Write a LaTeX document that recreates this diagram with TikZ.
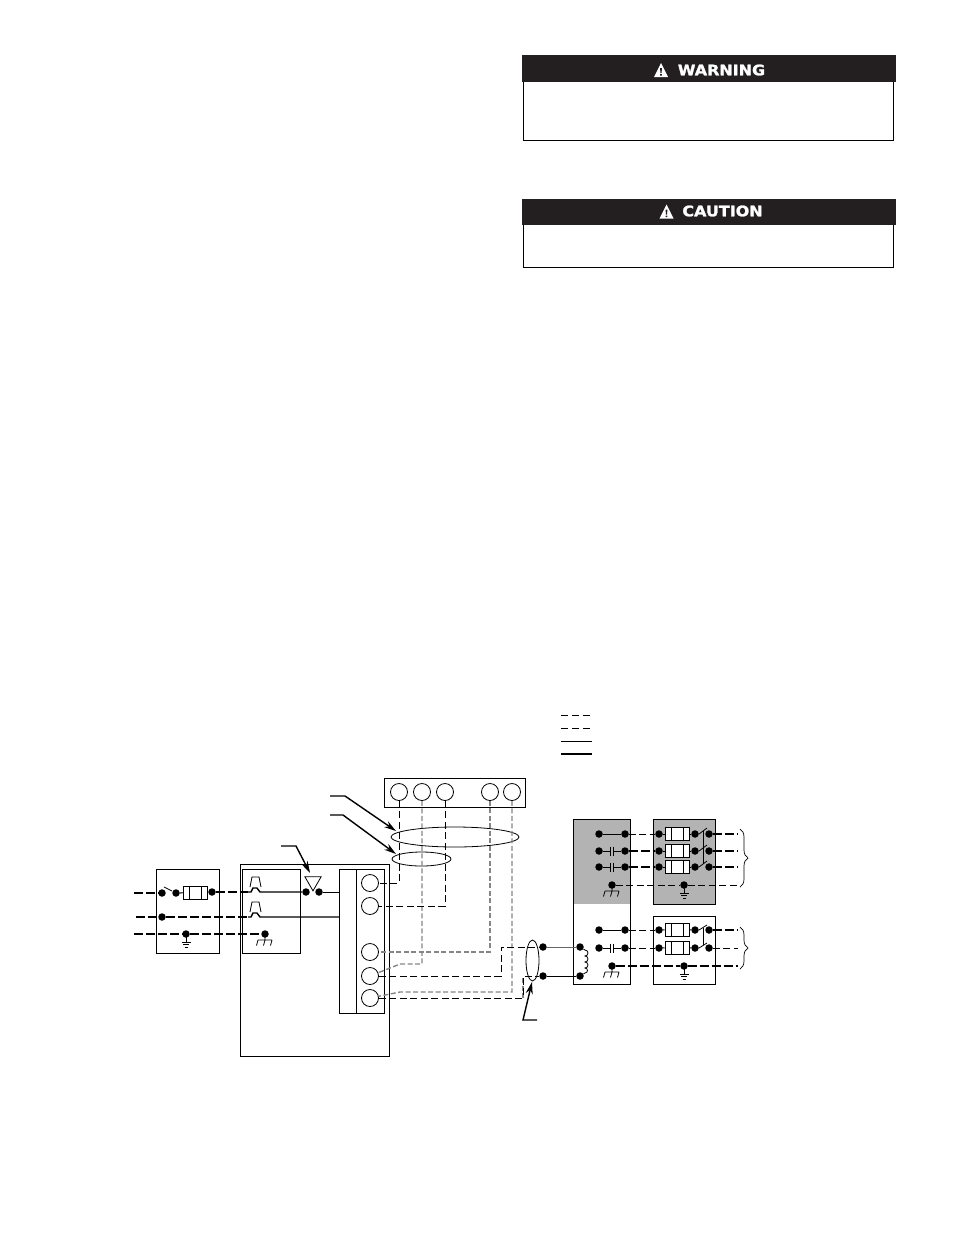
\documentclass[tikz,border=0pt]{standalone}
\usepackage{fontspec}
\usetikzlibrary{arrows.meta,positioning,calc,shapes.geometric,decorations.pathreplacing}
\newfontfamily\bannerfont[BoldFeatures={FakeBold=1.6}]{DejaVu Sans}
\definecolor{bannerblack}{HTML}{231F20}
\definecolor{panelgray}{HTML}{B3B3B3}
\tikzset{
  box/.style={draw,line width=1pt,inner sep=0pt},
  banner/.style={fill=bannerblack,inner sep=0pt,minimum width=374pt},
  bannertext/.style={text=white,inner sep=0pt,font=\bannerfont\bfseries\fontsize{14.5}{14.5}\selectfont,xscale=1.1},
  term/.style={circle,draw,line width=.8pt,fill=white,inner sep=0pt,minimum size=17pt},
  dot/.style={circle,fill=black,inner sep=0pt,minimum size=7.5pt},
  fuse/.style={draw,line width=.9pt,fill=white,inner sep=0pt,minimum width=24pt,minimum height=13pt,
    path picture={\draw ([xshift=6pt]path picture bounding box.south west) -- ([xshift=6pt]path picture bounding box.north west);
      \draw ([xshift=-6pt]path picture bounding box.south east) -- ([xshift=-6pt]path picture bounding box.north east);}},
  bundle/.style={ellipse,draw,line width=.8pt,inner sep=0pt},
  power/.style={line width=2.1pt,dash pattern=on 9pt off 3pt},
  thinline/.style={line width=.8pt,dash pattern=on 7pt off 3.5pt},
  lowv/.style={line width=1.4pt,color=black!48,dash pattern=on 5pt off 2.5pt},
  leader/.style={line width=1.4pt,-{Stealth[length=12pt,width=7pt]}},
  curly/.style={decorate,line width=.7pt,decoration={brace,amplitude=8pt}},
  earthgnd/.pic={
    \draw[line width=.8pt] (0,0) -- (0,8) (-4.5,8) -- (4.5,8) (-3,10.5) -- (3,10.5) (-1.5,13.5) -- (1.5,13.5);
  },
  chassisgnd/.pic={
    \draw[line width=.8pt] (0,0) -- (0,6) (-7,6) -- (7,6) (-7,6) -- (-8.5,11.5) (0,6) -- (-1.5,11.5) (7,6) -- (5.5,11.5);
  },
  capa/.pic={
    \draw[line width=.8pt] (-1.5,-4.5) -- (-1.5,4.5) (1.5,-4.5) -- (1.5,4.5);
  },
  bump/.pic={
    \draw[line width=.8pt] (-5.5,-5) -- (-3.5,-15) -- (3.5,-15) -- (5.5,-5);
  },
  warnsign/.pic={
    \fill[white] (-7,7) -- (0,-7) -- (7,7) -- cycle;
    \fill[bannerblack] (-1,-2) -- (1,-2) -- (.5,3) -- (-.5,3) -- cycle (-.8,4) rectangle (.8,5.6);
  }
}
\begin{document}
\begin{tikzpicture}[x=1pt,y=-1pt]
  \useasboundingbox (0,0) rectangle (954,1235);
  % warning and caution panels
  \node[box,minimum width=370pt,minimum height=85pt] (warnbox) at (708,97.5) {};
  \node[banner,minimum height=27pt] (warnbar) at (709,68.5) {};
  \node[bannertext] (warntxt) at (721.5,70) {WARNING};
  \pic at (661,70) {warnsign};
  \node[box,minimum width=370pt,minimum height=68pt] (cautbox) at (708,233) {};
  \node[banner,minimum height=26pt] (cautbar) at (709,212) {};
  \node[bannertext] (cauttxt) at (722.5,211) {CAUTION};
  \pic at (666.5,211.5) {warnsign};

  % legend
  \coordinate (lg1a) at (561,715); \coordinate (lg1b) at (592,715);
  \coordinate (lg2a) at (561,728); \coordinate (lg2b) at (592,728);
  \coordinate (lg3a) at (561,741); \coordinate (lg3b) at (592,741);
  \coordinate (lg4a) at (561,754); \coordinate (lg4b) at (592,754);
  \draw[thinline,dash pattern=on 7pt off 4pt] (lg1a) -- (lg1b);
  \draw[thinline,dash pattern=on 7pt off 4pt] (lg2a) -- (lg2b);
  \draw[line width=.9pt] (lg3a) -- (lg3b);
  \draw[line width=1.8pt] (lg4a) -- (lg4b);

  % boxes
  \node[box,minimum width=63pt,minimum height=84pt] (breaker) at (187.5,911) {};
  \node[box,minimum width=149pt,minimum height=192pt] (unit) at (314.5,960) {};
  \node[box,minimum width=58pt,minimum height=84pt] (fan) at (271,911) {};
  \node[box,minimum width=45pt,minimum height=144pt] (termbox) at (362,941) {};
  \draw[line width=1pt] (356,869) -- (356,1013);
  \node[box,minimum width=141pt,minimum height=29pt] (tstat) at (454.5,792.5) {};
  \node[box,minimum width=57pt,minimum height=165pt] (indoor) at (601.5,901.5) {};
  \fill[panelgray] (indoor.north west) rectangle (630,904);
  \node[box,minimum width=57pt,minimum height=165pt] at (601.5,901.5) {};
  \node[box,fill=panelgray,minimum width=62pt,minimum height=85pt] (disc1) at (684,861.5) {};
  \node[box,minimum width=62pt,minimum height=68pt] (disc2) at (684,950) {};

  % terminals
  \foreach \n/\x in {1/399,2/422,3/445,4/490,5/512}
    \node[term] (t\n) at (\x,792) {};
  \foreach \n/\y in {1/883,2/906,3/952,4/976,5/998}
    \node[term] (p\n) at (370,\y) {};

  % line side
  \node[dot] (d1) at (162,893) {};
  \node[dot] (d2) at (176,893) {};
  \node[fuse] (f0) at (195,892.5) {};
  \node[dot] (d3) at (212,892) {};
  \node[dot] (d4) at (306,892) {};
  \node[dot] (d5) at (319,892) {};
  \node[dot] (d6) at (162,917) {};
  \node[dot] (d7) at (186,934) {};
  \node[dot] (d8) at (265,934) {};
  \coordinate (in1) at (134,893);
  \coordinate (in2) at (136,917);
  \coordinate (in3) at (134,934);
  \coordinate (sw0a) at (164,887); \coordinate (sw0b) at (172,891);
  \coordinate (b1w) at (248,892); \coordinate (b1e) at (263,892);
  \coordinate (b2w) at (248,917); \coordinate (b2e) at (263,917);
  \draw[power] (in1) -- (d1);
  \draw[line width=.8pt] (sw0a) -- (sw0b);
  \draw[line width=1.2pt] (d2) -- (f0) -- (d3);
  \draw[power] (d3) -- (b1w);
  \draw[line width=1.4pt] (b1w) -- ++(3,0) -- ++(2,-4) -- ++(4,0) -- ++(3,4) -- (b1e) -- (d4);
  \draw[line width=1pt] (d5) -- (d5 -| termbox.west);
  \pic at (255.5,892) {bump};
  \draw[power] (in2) -- (d6);
  \draw[power] (d6) -- (b2w);
  \draw[line width=1.4pt] (b2w) -- ++(3,0) -- ++(2,-4) -- ++(4,0) -- ++(3,4) -- (b2e) -- (b2e -| termbox.west);
  \pic at (255.5,917) {bump};
  \draw[power] (in3) -- (d7);
  \draw[power] (d7) -- (d8);
  \pic at (186,934) {earthgnd};
  \pic at (265,934) {chassisgnd};
  \node[isosceles triangle,shape border rotate=-90,draw,line width=.8pt,inner sep=0pt,isosceles triangle apex angle=60,minimum height=14pt,minimum width=16pt] (notetri) at (313,881.5) {};

  % bundles
  \node[bundle,minimum width=128pt,minimum height=20pt] (bigloop) at (455,837) {};
  \node[bundle,minimum width=59pt,minimum height=14pt] (smallloop) at (421.5,859) {};
  \node[bundle,minimum width=13pt,minimum height=41pt] (fieldloop) at (532.5,960.5) {};

  % control wiring
  \coordinate (k4) at (400,964);
  \coordinate (k5) at (400,992);
  \coordinate (m1) at (501,976); \coordinate (m2) at (501,947);
  \coordinate (m3) at (523,998); \coordinate (m4) at (523,976);
  \node[dot] (u1) at (543,947) {};
  \node[dot] (u2) at (543,976) {};
  \draw[lowv] (t2) |- (k4) -- (p4);
  \draw[lowv] (t4) |- (p3);
  \draw[lowv] (t5) |- (k5) -- (p5);
  \draw[lowv] (m3) -- (m4);
  \draw[thinline] (t1) |- (p1);
  \draw[thinline] (t3) |- (p2);
  \draw[thinline,line width=1pt] (p4) -- (m1) -- (m2) -- (u1);
  \draw[thinline,line width=1pt] (p5) -- (m3) -- (m4) -- (u2);

  % leaders
  \coordinate (ld1a) at (330,796); \coordinate (ld1b) at (345,796); \coordinate (ld1c) at (396,831);
  \coordinate (ld2a) at (330,815); \coordinate (ld2b) at (343,815); \coordinate (ld2c) at (396,854);
  \coordinate (ld3a) at (281,846); \coordinate (ld3b) at (296,846); \coordinate (ld3c) at (310,873);
  \coordinate (ld4a) at (537,1020); \coordinate (ld4b) at (523,1020); \coordinate (ld4c) at (532,982);
  \draw[leader] (ld1a) -- (ld1b) -- (ld1c);
  \draw[leader] (ld2a) -- (ld2b) -- (ld2c);
  \draw[leader] (ld3a) -- (ld3b) -- (ld3c);
  \draw[leader] (ld4a) -- (ld4b) -- (ld4c);

  % coil
  \node[dot] (cl1) at (580,947) {};
  \node[dot] (cl2) at (580,976) {};
  \draw[line width=.9pt,color=black!60] (u1) -- (cl1);
  \draw[line width=.9pt] (u2) -- (cl2);
  \draw[line width=.8pt] (cl1) -- (585,950) arc[start angle=90,end angle=-90,radius=3pt]
    arc[start angle=90,end angle=-90,radius=3pt] arc[start angle=90,end angle=-90,radius=3pt]
    arc[start angle=90,end angle=-90,radius=2.5pt] -- (cl2);

  % upper disconnect, three phases
  \foreach \n/\y in {a/834,b/851,c/867}{
    \node[dot] (la\n) at (599,\y) {};
    \node[dot] (lb\n) at (625,\y) {};
    \node[dot] (lc\n) at (659,\y) {};
    \node[fuse] (lf\n) at (677,\y) {};
    \node[dot] (ld\n) at (695,\y) {};
    \node[dot] (le\n) at (709,\y) {};
    \coordinate (lo\n) at (738,\y);
    \draw[line width=1pt] (lc\n) -- (lf\n) -- (ld\n);
    \draw[line width=.8pt] (699,\y) -- ++(8,-6);
  }
  \draw[line width=.9pt] (laa) -- (lba);
  \draw[thinline] (lba) -- (lca);
  \draw[power] (lea) -- (loa);
  \foreach \n in {b,c}{
    \coordinate (cp\n) at ($(la\n)!.5!(lb\n)$);
    \draw[line width=.9pt] (la\n) -- ([xshift=-1.5pt]cp\n);
    \draw[line width=.9pt] ([xshift=1.5pt]cp\n) -- (lb\n);
    \pic at (cp\n) {capa};
    \draw[power] (lb\n) -- (lc\n);
    \draw[power] (le\n) -- (lo\n);
  }
  \coordinate (link1a) at (703,831); \coordinate (link1b) at (703,864);
  \draw[line width=.8pt] (link1a) -- (link1b);
  \node[dot] (gi1) at (612,885) {};
  \node[dot] (gd1) at (684,885) {};
  \coordinate (go1) at (738,885);
  \draw[thinline] (gi1) -- (gd1);
  \draw[thinline] (gd1) -- (go1);
  \pic at (612,885) {chassisgnd};
  \pic at (684,885) {earthgnd};
  \coordinate (br1a) at (740,829); \coordinate (br1b) at (740,887);
  \draw[curly] (br1a) -- (br1b);

  % lower disconnect
  \foreach \n/\y in {a/930,b/948}{
    \node[dot] (ma\n) at (599,\y) {};
    \node[dot] (mb\n) at (625,\y) {};
    \node[dot] (mc\n) at (659,\y) {};
    \node[fuse] (mf\n) at (677,\y-.5) {};
    \node[dot] (md\n) at (695,\y) {};
    \node[dot] (me\n) at (709,\y) {};
    \coordinate (mo\n) at (738,\y);
    \draw[line width=1pt] (mc\n) -- (mf\n) -- (md\n);
    \draw[line width=.8pt] (699,\y) -- ++(8,-5);
    \draw[thinline] (mb\n) -- (mc\n);
  }
  \draw[line width=.9pt] (maa) -- (mba);
  \coordinate (cpm) at ($(mab)!.5!(mbb)$);
  \draw[line width=.9pt] (mab) -- ([xshift=-1.5pt]cpm);
  \draw[line width=.9pt] ([xshift=1.5pt]cpm) -- (mbb);
  \pic at (cpm) {capa};
  \draw[power] (mea) -- (moa);
  \draw[thinline] (meb) -- (mob);
  \coordinate (link2a) at (703,928); \coordinate (link2b) at (703,945);
  \draw[line width=.8pt] (link2a) -- (link2b);
  \node[dot] (gi2) at (612,966) {};
  \node[dot] (gd2) at (684,966) {};
  \coordinate (go2) at (738,966);
  \draw[power] (gi2) -- (gd2);
  \draw[power] (gd2) -- (go2);
  \pic at (612,966) {chassisgnd};
  \pic at (684,966) {earthgnd};
  \coordinate (br2a) at (740,927); \coordinate (br2b) at (740,969);
  \draw[curly] (br2a) -- (br2b);
\end{tikzpicture}
\end{document}
